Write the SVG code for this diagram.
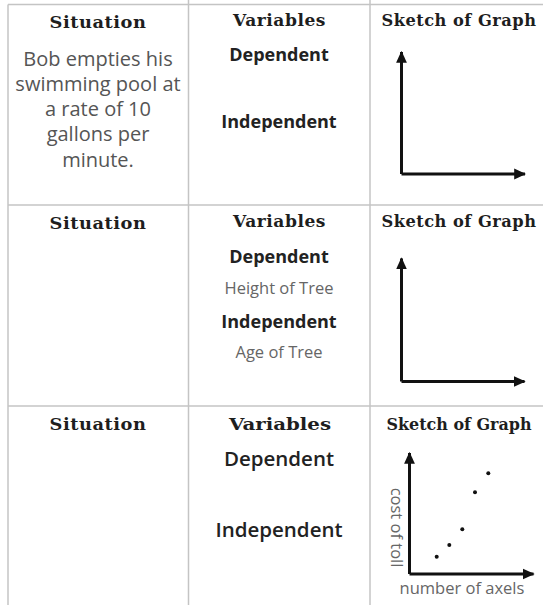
<svg xmlns="http://www.w3.org/2000/svg" width="543" height="605" viewBox="0 0 543 605">
<style>
.grid{stroke:#c4c4c4;stroke-width:1.5;fill:none}
.hdr{font-family:"DejaVu Serif","Liberation Serif",serif;font-weight:bold;font-size:16.5px;fill:#1e1e1e;text-anchor:middle;letter-spacing:0.5px}
.hdr3{font-family:"DejaVu Serif","Liberation Serif",serif;font-weight:bold;fill:#1e1e1e;text-anchor:middle}
.body{font-family:"Open Sans","Noto Sans",sans-serif;font-size:20px;fill:#555;text-anchor:middle}
.var{font-family:"Open Sans","Noto Sans",sans-serif;font-weight:700;font-size:18px;fill:#222;text-anchor:middle}
.var3{font-family:"Open Sans","Noto Sans",sans-serif;font-weight:600;font-size:20.5px;fill:#222;text-anchor:middle}
.small{font-family:"Open Sans","Noto Sans",sans-serif;font-size:16.5px;fill:#666;text-anchor:middle}
.axis{stroke:#111;stroke-width:3;fill:none;marker-end:url(#ah)}
.dot{fill:#111}
</style>
<defs>
<marker id="ah" markerUnits="userSpaceOnUse" markerWidth="12" markerHeight="12" viewBox="0 0 10 10" refX="9" refY="5" orient="auto">
<path d="M0,0.5 L10,5 L0,9.5 Z" fill="#111"/>
</marker>
</defs>
<g id="grid">
<line class="grid" x1="8" y1="4.5" x2="543" y2="4.5"/>
<line class="grid" x1="8" y1="205" x2="543" y2="205"/>
<line class="grid" x1="8" y1="406" x2="543" y2="406"/>
<line class="grid" x1="8" y1="4.5" x2="8" y2="605"/>
<line class="grid" x1="188.5" y1="0" x2="188.5" y2="605"/>
<line class="grid" x1="370" y1="0" x2="370" y2="605"/>
</g>
<g id="row1">
<text class="hdr" x="98" y="28" textLength="97" lengthAdjust="spacingAndGlyphs">Situation</text>
<text class="hdr" x="279.5" y="26" textLength="93" lengthAdjust="spacingAndGlyphs">Variables</text>
<text class="hdr" x="459" y="26" textLength="155" lengthAdjust="spacingAndGlyphs">Sketch of Graph</text>
<text class="body" x="98" y="65.5">Bob empties his</text>
<text class="body" x="98" y="90.5">swimming pool at</text>
<text class="body" x="98" y="116">a rate of 10</text>
<text class="body" x="98" y="141">gallons per</text>
<text class="body" x="98" y="166.5">minute.</text>
<text class="var" x="279" y="61">Dependent</text>
<text class="var" x="279" y="127.5">Independent</text>
</g>
<g id="row2">
<text class="hdr" x="98" y="229" textLength="97" lengthAdjust="spacingAndGlyphs">Situation</text>
<text class="hdr" x="279.5" y="227" textLength="93" lengthAdjust="spacingAndGlyphs">Variables</text>
<text class="hdr" x="459" y="227" textLength="155" lengthAdjust="spacingAndGlyphs">Sketch of Graph</text>
<text class="var" x="279" y="262.5">Dependent</text>
<text class="small" x="279" y="294">Height of Tree</text>
<text class="var" x="279" y="327.5">Independent</text>
<text class="small" x="279" y="358">Age of Tree</text>
</g>
<g id="row3">
<text class="hdr" x="98" y="430" textLength="97" lengthAdjust="spacingAndGlyphs">Situation</text>
<text class="hdr3" x="280" y="430" font-size="17.5" textLength="102" lengthAdjust="spacingAndGlyphs">Variables</text>
<text class="hdr3" x="459" y="430" font-size="17" textLength="145" lengthAdjust="spacingAndGlyphs">Sketch of Graph</text>
<text class="var3" x="279" y="466">Dependent</text>
<text class="var3" x="279" y="537">Independent</text>
</g>
<g id="graph1">
<path class="axis" d="M401.5,174 L401.5,52"/>
<path class="axis" d="M401.5,174 L525,174"/>
</g>
<g id="graph2">
<path class="axis" d="M401.5,381.5 L401.5,258.5"/>
<path class="axis" d="M401.5,381.5 L524.5,381.5"/>
</g>
<g id="graph3">
<path class="axis" d="M409.5,574 L409.5,453"/>
<path class="axis" d="M409.5,574 L533.5,574"/>
<circle class="dot" cx="436.7" cy="556.7" r="2"/>
<circle class="dot" cx="449.3" cy="545" r="2"/>
<circle class="dot" cx="462.3" cy="529.3" r="2"/>
<circle class="dot" cx="475" cy="492.3" r="2"/>
<circle class="dot" cx="488.3" cy="473.3" r="2"/>
<text class="small" transform="translate(391,527.5) rotate(90)" x="0" y="0">cost of toll</text>
<text class="small" x="462" y="594">number of axels</text>
</g>
</svg>
